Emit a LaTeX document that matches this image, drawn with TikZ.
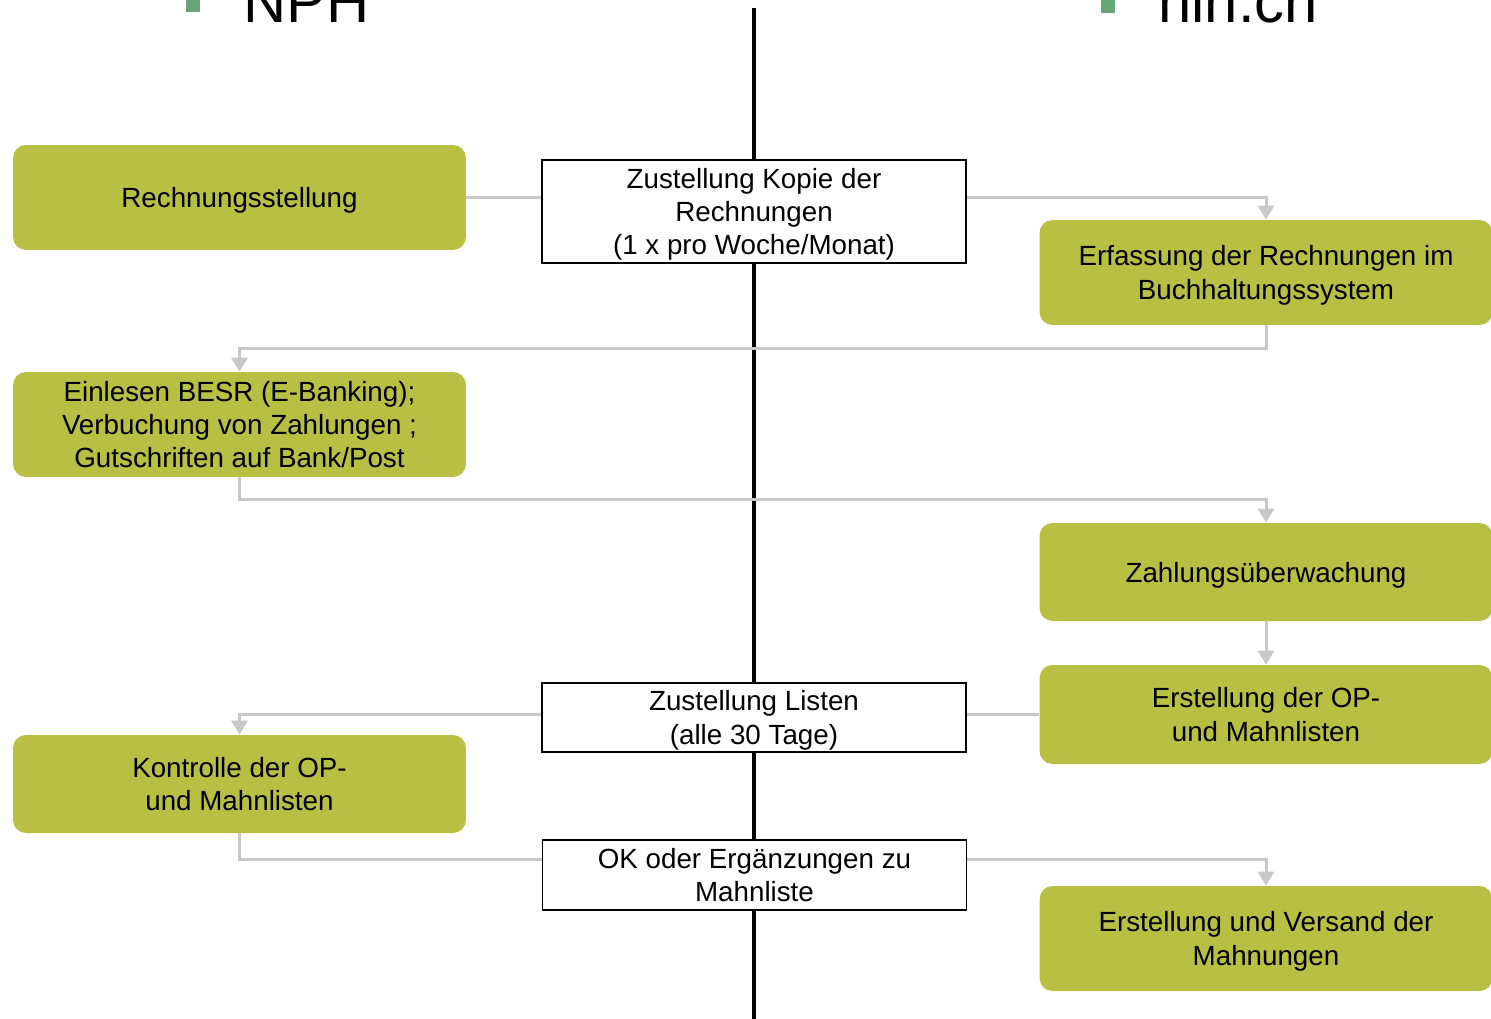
\documentclass[tikz,border=0pt]{standalone}
\usepackage{fontspec}
\setmainfont{Liberation Sans}
\usetikzlibrary{positioning,arrows.meta}
\definecolor{boxgreen}{HTML}{B8BF43}
\definecolor{bulletgreen}{HTML}{66A679}
\definecolor{linegrey}{HTML}{C8C8C8}

\begin{document}
\begin{tikzpicture}[x=0.02cm,y=-0.02cm,
	every node/.style={font=\fontsize{15.8}{19}\selectfont,align=center,inner sep=0pt,text depth=0pt},
	task/.style={fill=boxgreen,rounded corners=0.26cm,minimum width=9.06cm,minimum height=2.1cm},
	handover/.style={draw=black,line width=1pt,fill=white,minimum width=8.48cm},
	link/.style={draw=linegrey,line width=1.7pt},
	flow/.style={link,-{Triangle[width=0.32cm,length=0.28cm]}}]
	\path[use as bounding box,clip] (0,0) rectangle (1491,1018);
	% Mittellinie
	\coordinate (top) at (754,8);
	\coordinate (bottom) at (754,1030);
	\draw[line width=2.8pt] (top) -- (bottom);
	% Titel
	\node[fill=bulletgreen,minimum size=0.28cm] (bl) at (193,5) {};
	\node[anchor=base west,font=\fontsize{34}{40}\selectfont] (nph) at (243,22) {NPH};
	\node[fill=bulletgreen,minimum size=0.28cm] (br) at (1108,6) {};
	\node[anchor=base west,font=\fontsize{34}{40}\selectfont] (hin) at (1158,22) {hin.ch};
	% NPH
	\node[task] (rech) at (239.5,197.5) {Rechnungsstellung};
	\node[task] (einl) at (239.5,424.5) {Einlesen BESR (E-Banking);\\Verbuchung von Zahlungen ;\\Gutschriften auf Bank/Post};
	\node[task,minimum height=1.96cm] (kontr) at (239.5,784) {Kontrolle der OP-\\und Mahnlisten};
	% hin.ch
	\node[task] (erf) at (1266,272.5) {Erfassung der Rechnungen im\\Buchhaltungssystem};
	\node[task,minimum height=1.96cm] (zahl) at (1266,572) {Zahlungsüberwachung};
	\node[task,minimum height=1.98cm] (op) at (1266,714.5) {Erstellung der OP-\\und Mahnlisten};
	\node[task] (vers) at (1266,938.5) {Erstellung und Versand der\\Mahnungen};
	% Uebergaben
	\node[handover,minimum height=2.06cm] (kopie) at (754,211.5) {Zustellung Kopie der\\Rechnungen\\(1 x pro Woche/Monat)};
	\node[handover,minimum height=1.38cm] (listen) at (754,717.5) {Zustellung Listen\\(alle 30 Tage)};
	\node[handover,minimum height=1.4cm] (ok) at (754.5,875) {OK oder Ergänzungen zu\\Mahnliste};
	% Verbindungen
	\draw[link] (rech.east) -- (rech.east -| kopie.west);
	\draw[flow] (kopie.east |- rech.east) -| (erf.north);
	\draw[flow] (erf.south) -- ++(0,23) -| (einl.north);
	\draw[flow] (einl.south) -- ++(0,22) -| (zahl.north);
	\draw[flow] (zahl.south) -- (op.north);
	\draw[link] (op.west) -- (op.west -| listen.east);
	\draw[flow] (listen.west |- op.west) -| (kontr.north);
	\draw[link] (kontr.south) -- ++(0,26) coordinate (kb) -- (kb -| ok.west);
	\draw[flow] (kb -| ok.east) -| (vers.north);
\end{tikzpicture}
\end{document}
